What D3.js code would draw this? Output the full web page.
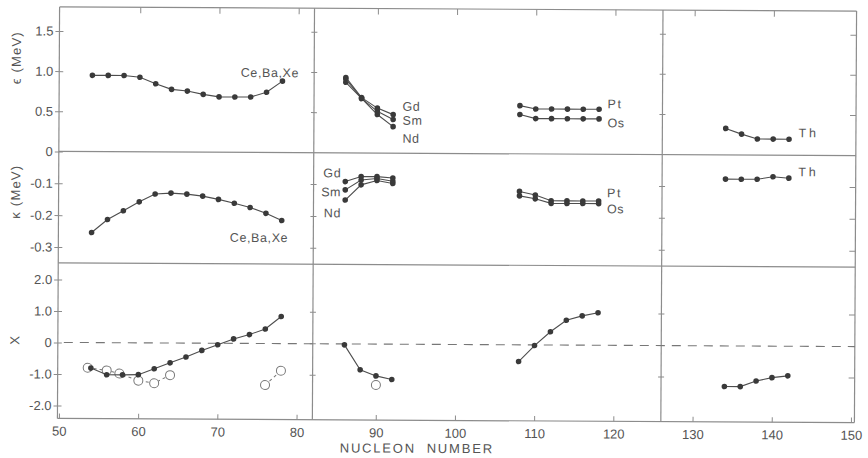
<!DOCTYPE html>
<html>
<head>
<meta charset="utf-8">
<script src="https://cdn.jsdelivr.net/npm/d3@7"></script>
<style>
body{margin:0;background:#fff;}
text{font-family:"Liberation Sans",Arial,sans-serif;fill:#555;}
</style>
</head>
<body>
<script>
// values (N = nucleon number)
var nCeBaXe=[54,56,58,60,62,64,66,68,70,72,74,76,78];
var epsCeBaXe=[0.95,0.95,0.95,0.93,0.85,0.78,0.76,0.72,0.69,0.69,0.69,0.75,0.89];
var kapCeBaXe=[-0.254,-0.213,-0.185,-0.157,-0.132,-0.129,-0.132,-0.138,-0.148,-0.16,-0.173,-0.191,-0.213];
var xCeBaXe=[-0.81,-1.02,-1.02,-1.01,-0.82,-0.63,-0.44,-0.23,-0.05,0.14,0.28,0.46,0.86];
var nExpA=[53.6,56,57.6,60,62,64];
var xExpA=[-0.80,-0.88,-0.98,-1.2,-1.28,-1.02];
var nExpB=[76,78];
var xExpB=[-1.32,-0.86];

var nRare=[86,88,90,92];
var epsGd=[0.94,0.69,0.56,0.48];
var epsSm=[0.92,0.68,0.52,0.42];
var epsNd=[0.88,0.68,0.48,0.33];
var kapGd=[-0.09,-0.074,-0.074,-0.078];
var kapSm=[-0.116,-0.085,-0.08,-0.088];
var kapNd=[-0.148,-0.1,-0.086,-0.095];
var xRare=[-0.03,-0.82,-1.01,-1.12];
var nExpRare=[90];
var xExpRare=[-1.30];

var nPtOs=[108,110,112,114,116,118];
var epsPt=[0.6,0.56,0.56,0.56,0.56,0.56];
var epsOs=[0.49,0.44,0.44,0.44,0.44,0.44];
var kapPt=[-0.118,-0.129,-0.147,-0.147,-0.147,-0.147];
var kapOs=[-0.132,-0.141,-0.155,-0.155,-0.155,-0.155];
var xPtOs=[-0.53,-0.02,0.42,0.79,0.93,1.03];

var nTh=[134,136,138,140,142];
var epsTh=[0.33,0.26,0.2,0.2,0.2];
var kapTh=[-0.076,-0.076,-0.076,-0.068,-0.072];
var xTh=[-1.29,-1.29,-1.11,-1.0,-0.94];

var xTicks=[50,60,70,80,90,100,110,120,130,140,150];
var topTicks=[60,70,80,90,100,110,120,130,140];
var epsTicks=[0,0.5,1.0,1.5];
var epsTickLabels=['0','0.5','1.0','1.5'];
var kapTicks=[-0.1,-0.2,-0.3];
var kapTickLabels=['-0.1','-0.2','-0.3'];
var xpTicks=[2,1,0,-1,-2];
var xpTickLabels=['2.0','1.0','0','-1.0','-2.0'];
var magic=[82,126];

var L=58.5, R=855.5, T=9, B=420.5, M1=153.5, M2=265;

var svg=d3.select('body').append('svg').attr('width',868).attr('height',458);
// the scan is slightly tilted
var g=svg.append('g').attr('transform','rotate(0.3,457,215)');

var x=d3.scaleLinear().domain([50,150]).range([60,852]);
var yEps=d3.scaleLinear().domain([0,1.8]).range([M1,T]);
var yKap=d3.scaleLinear().domain([-0.35,0]).range([M2,M1]);
var yX=d3.scaleLinear().domain([-2,2]).range([407.5,281.5]);

var frame='#8c8c8c';

// frame + panel dividers
[T,M1,M2,B].forEach(function(y){
  g.append('line').attr('x1',L).attr('x2',R).attr('y1',y).attr('y2',y)
   .attr('stroke',frame).attr('stroke-width',1.2);
});
[L,R,x(magic[0]),x(magic[1])].forEach(function(xx){
  g.append('line').attr('x1',xx).attr('x2',xx).attr('y1',T).attr('y2',B)
   .attr('stroke',frame).attr('stroke-width',1.2);
});

// left axes
function leftAxis(scale,vals,labs){
  var a=g.append('g').attr('transform','translate('+L+',0)')
   .call(d3.axisLeft(scale).tickValues(vals).tickFormat(function(d,i){return labs[i];})
     .tickSizeInner(4).tickSizeOuter(0).tickPadding(2));
  a.select('.domain').remove();
  a.selectAll('.tick line').attr('x2',-4).attr('x1',4).attr('stroke',frame);
  a.selectAll('text').style('font-size','13px').style('font-family','"Liberation Sans",Arial,sans-serif').attr('fill','#555');
  // right border + dividers
  var v=vals.filter(function(d){return scale(d)>scale.range()[1]+1 && scale(d)<scale.range()[0]-1;});
  v.forEach(function(d){
    g.append('line').attr('x1',R-6).attr('x2',R).attr('y1',scale(d)).attr('y2',scale(d)).attr('stroke',frame);
    magic.forEach(function(m){
      g.append('line').attr('x1',x(m)-3).attr('x2',x(m)+3).attr('y1',scale(d)).attr('y2',scale(d)).attr('stroke',frame);
    });
  });
}
leftAxis(yEps,epsTicks,epsTickLabels);
leftAxis(yKap,kapTicks,kapTickLabels);
leftAxis(yX,xpTicks,xpTickLabels);

// bottom axis
var bx=g.append('g').attr('transform','translate(0,'+B+')')
  .call(d3.axisBottom(x).tickValues(xTicks).tickSizeInner(-5).tickSizeOuter(0).tickPadding(8));
bx.select('.domain').remove();
bx.selectAll('.tick line').attr('stroke',frame);
bx.selectAll('text').style('font-size','13px').style('font-family','"Liberation Sans",Arial,sans-serif').attr('fill','#555');

// top ticks
var tx=g.append('g').attr('transform','translate(0,'+T+')')
  .call(d3.axisTop(x).tickValues(topTicks).tickSizeInner(-6).tickSizeOuter(0).tickFormat(''));
tx.select('.domain').remove();
tx.selectAll('.tick line').attr('stroke',frame);

// zero line in X panel
g.append('line').attr('x1',L+6).attr('x2',R).attr('y1',yX(0)).attr('y2',yX(0))
 .attr('stroke','#777').attr('stroke-width',1.1).attr('stroke-dasharray','9,7');

function series(scale,ns,vs){
  var pts=d3.zip(ns,vs);
  g.append('path').datum(pts)
   .attr('d',d3.line().x(function(d){return x(d[0]);}).y(function(d){return scale(d[1]);}))
   .attr('fill','none').attr('stroke','#4d4d4d').attr('stroke-width',1.1);
  g.selectAll(null).data(pts).enter().append('circle')
   .attr('cx',function(d){return x(d[0]);}).attr('cy',function(d){return scale(d[1]);})
   .attr('r',2.8).attr('fill','#3a3a3a');
}
function openSeries(scale,ns,vs){
  var pts=d3.zip(ns,vs);
  if(pts.length>1){
    g.append('path').datum(pts)
     .attr('d',d3.line().x(function(d){return x(d[0]);}).y(function(d){return scale(d[1]);}))
     .attr('fill','none').attr('stroke','#777').attr('stroke-width',1).attr('stroke-dasharray','3,3');
  }
  g.selectAll(null).data(pts).enter().append('circle')
   .attr('cx',function(d){return x(d[0]);}).attr('cy',function(d){return scale(d[1]);})
   .attr('r',4.5).attr('fill','#fff').attr('stroke','#777').attr('stroke-width',1);
}

series(yEps,nCeBaXe,epsCeBaXe);
series(yKap,nCeBaXe,kapCeBaXe);
openSeries(yX,nExpA,xExpA);
openSeries(yX,nExpB,xExpB);
series(yX,nCeBaXe,xCeBaXe);

series(yEps,nRare,epsNd);
series(yEps,nRare,epsSm);
series(yEps,nRare,epsGd);
series(yKap,nRare,kapNd);
series(yKap,nRare,kapSm);
series(yKap,nRare,kapGd);
openSeries(yX,nExpRare,xExpRare);
series(yX,nRare,xRare);

series(yEps,nPtOs,epsPt);
series(yEps,nPtOs,epsOs);
series(yKap,nPtOs,kapPt);
series(yKap,nPtOs,kapOs);
series(yX,nPtOs,xPtOs);

series(yEps,nTh,epsTh);
series(yKap,nTh,kapTh);
series(yX,nTh,xTh);

// series labels
function label(t,xx,yy,anchor,ls){
  g.append('text').text(t).attr('x',xx).attr('y',yy)
   .attr('text-anchor',anchor||'start')
   .style('font-size','12.5px').style('letter-spacing',(ls||0.6)+'px');
}
label('Ce,Ba,Xe',240,78);
label('Ce,Ba,Xe',230,243);
label('Gd',402,111);
label('Sm',402,125);
label('Nd',402,143);
label('Gd',341,178,'end');
label('Sm',341,197,'end');
label('Nd',341,218,'end');
label('Pt',607,107.5,'start',1.5);
label('Os',607,126.5);
label('Pt',607,196.5,'start',1.5);
label('Os',607,212.5);
label('Th',798,135.5,'start',3);
label('Th',798,174.5,'start',3);

// axis titles
function ytitle(t,cy){
  g.append('text').text(t).attr('transform','translate(20,'+cy+') rotate(-90)')
   .attr('text-anchor','middle').style('font-size','13px').style('letter-spacing','1.2px');
}
ytitle('\u03F5 (MeV)',60);
ytitle('\u03BA (MeV)',194);
ytitle('X',342);

g.append('text').text('NUCLEON  NUMBER').attr('x',418).attr('y',453)
 .attr('text-anchor','middle').style('font-size','13px').style('letter-spacing','1.8px')
 .style('white-space','pre');
</script>
</body>
</html>
